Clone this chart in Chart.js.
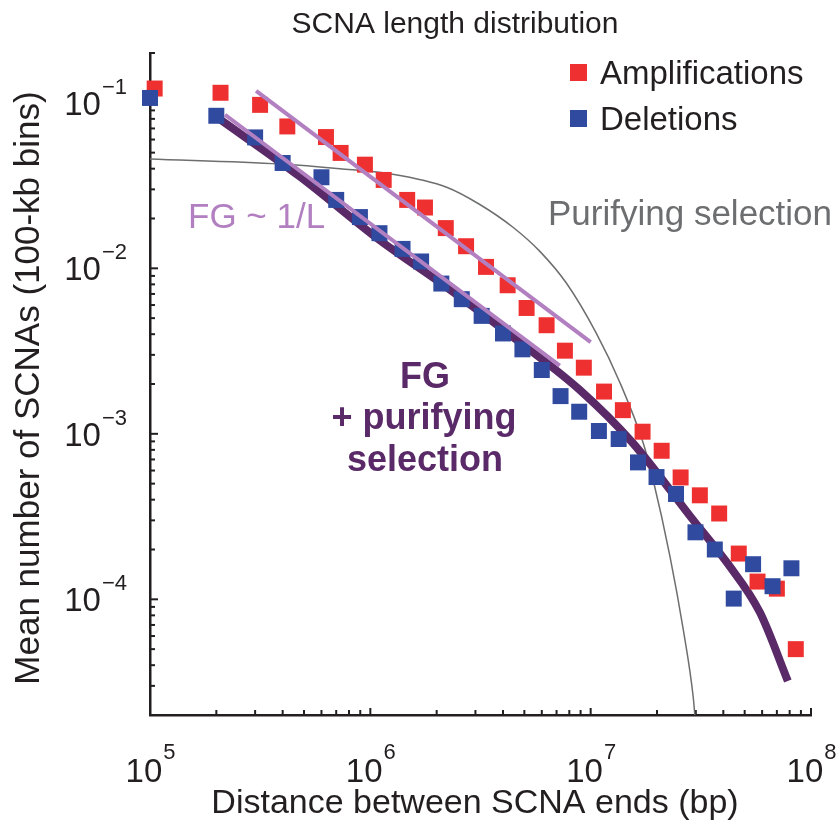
<!DOCTYPE html>
<html>
<head>
<meta charset="utf-8">
<script src="https://cdn.jsdelivr.net/npm/chart.js@4.4.0/dist/chart.umd.min.js"></script>
<style>
  html, body { margin: 0; padding: 0; background: #fff; }
  #wrap { width: 840px; height: 829px; }
</style>
</head>
<body>
<div id="wrap"><canvas id="scna"></canvas></div>
<script>
// Amplifications (red squares)
var ampX = [1.05e5, 2.09e5, 3.16e5, 4.2e5, 6.29e5, 7.33e5, 9.45e5, 1.15e6, 1.47e6, 1.77e6,
            2.2e6, 2.72e6, 3.35e6, 4.2e6, 5.12e6, 6.31e6, 7.64e6, 9.31e6, 1.15e7, 1.4e7,
            1.72e7, 2.1e7, 2.56e7, 3.13e7, 3.83e7, 4.7e7, 5.72e7, 7.0e7, 8.53e7];
var ampY = [0.122, 0.115, 0.0972, 0.072, 0.0621, 0.0498, 0.0423, 0.0342, 0.0259, 0.0233,
            0.0175, 0.0136, 0.0102, 0.0079, 0.00576, 0.00453, 0.00318, 0.00251, 0.0018, 0.00139,
            0.00103, 0.00079, 0.000545, 0.000425, 0.00033, 0.000189, 0.000128, 0.000116, 0.00005];

// Deletions (blue squares)
var delX = [1.0e5, 2.0e5, 3.0e5, 4.0e5, 6.0e5, 7.0e5, 8.97e5, 1.1e6, 1.4e6, 1.7e6,
            2.1e6, 2.6e6, 3.2e6, 4.0e6, 4.9e6, 6.0e6, 7.3e6, 8.87e6, 1.09e7, 1.34e7,
            1.64e7, 1.99e7, 2.44e7, 2.99e7, 3.66e7, 4.46e7, 5.46e7, 6.69e7, 8.15e7];
var delY = [0.107, 0.0835, 0.0618, 0.0433, 0.0355, 0.0259, 0.0204, 0.0163, 0.0131, 0.011,
            0.00809, 0.00651, 0.00516, 0.00404, 0.00324, 0.00243, 0.00169, 0.00136, 0.00104, 0.00093,
            0.000672, 0.000548, 0.000433, 0.000254, 0.0002, 0.000101, 0.000163, 0.00012, 0.000154];

// FG ~ 1/L guide lines (end points)
var fitAmpX = [3.03e5, 1.0e7];
var fitAmpY = [0.118, 0.00358];
var fitDelX = [2.19e5, 7.24e6];
var fitDelY = [0.0847, 0.00258];

// FG + purifying selection model curve
var fgX = [2.03e5, 4.79e5, 1.11e6, 2.22e6, 4.44e6, 8.93e6, 1.55e7, 2.91e7, 4.15e7, 5.86e7, 7.85e7];
var fgY = [0.0812, 0.0358, 0.0147, 0.00768, 0.00384, 0.00184, 0.000883, 0.000303, 0.000167, 0.0000835, 0.0000321];

// purifying selection only
var purX = [1.0e5, 3.89e5, 7.28e5, 1.23e6, 2.22e6, 3.14e6, 4.44e6, 5.88e6, 7.77e6, 1.06e7, 1.36e7,
            1.73e7, 1.92e7, 2.29e7, 2.63e7, 2.92e7, 2.97e7];
var purY = [0.0458, 0.0427, 0.0400, 0.0372, 0.0309, 0.0243, 0.0177, 0.01266, 0.00812, 0.00406, 0.00203,
            0.000883, 0.000528, 0.000182, 0.000066, 0.0000257, 0.00002];

// tick labels
var xTicks = [1e5, 1e6, 1e7, 1e8];
var xTickExp = ['5', '6', '7', '8'];
var yTicks = [1e-1, 1e-2, 1e-3, 1e-4];
var yTickExp = ['\u22121', '\u22122', '\u22123', '\u22124'];

var RED = '#ee3130', BLUE = '#2f4a9f', LAV = '#b27fc1', PURPLE = '#5a2a68', GREY = '#6d6e70', INK = '#231f20';
var FONT = '"Liberation Sans", Arial, sans-serif';

function pts(xs, ys) {
    return xs.map(function (x, i) { return { x: x, y: ys[i] }; });
}

// inward ticks on both axes, drawn under the markers
var tickMarks = {
    id: 'tickMarks',
    beforeDatasetsDraw: function (chart) {
        var ctx = chart.ctx, xs = chart.scales.x, ys = chart.scales.y, a = chart.chartArea;
        ctx.save();
        ctx.strokeStyle = INK;
        ctx.lineWidth = 2;
        for (var e = 5; e <= 8; e++) {
            for (var k = 1; k <= 9; k++) {
                var v = k * Math.pow(10, e);
                if (v > 1e8) break;
                var px = xs.getPixelForValue(v), len = k === 1 ? 7 : 5;
                ctx.beginPath(); ctx.moveTo(px, a.bottom); ctx.lineTo(px, a.bottom - len); ctx.stroke();
            }
        }
        for (var e2 = -5; e2 <= -1; e2++) {
            for (var k2 = 1; k2 <= 9; k2++) {
                var v2 = k2 * Math.pow(10, e2);
                if (v2 < 2e-5 || v2 > 0.2) continue;
                var py = ys.getPixelForValue(v2), len2 = k2 === 1 ? 8 : 5;
                ctx.beginPath(); ctx.moveTo(a.left, py); ctx.lineTo(a.left + len2, py); ctx.stroke();
            }
        }
        ctx.restore();
    }
};

// labels, titles, legend, annotations
var labels = {
    id: 'labels',
    afterDraw: function (chart) {
        var ctx = chart.ctx, xs = chart.scales.x, ys = chart.scales.y;
        ctx.save();
        ctx.fillStyle = INK;
        ctx.textBaseline = 'alphabetic';

        // x tick labels 10^n
        xTicks.forEach(function (v, i) {
            var px = xs.getPixelForValue(v);
            ctx.font = '33px ' + FONT;
            var w1 = ctx.measureText('10').width;
            ctx.font = '22px ' + FONT;
            var w2 = ctx.measureText(xTickExp[i]).width;
            var x0 = px - (w1 + w2) / 2;
            ctx.textAlign = 'left';
            ctx.font = '33px ' + FONT;
            ctx.fillText('10', x0, 782);
            ctx.font = '22px ' + FONT;
            ctx.fillText(xTickExp[i], x0 + w1 + 1, 759);
        });

        // y tick labels 10^-n
        yTicks.forEach(function (v, i) {
            var py = ys.getPixelForValue(v);
            ctx.font = '22px ' + FONT;
            var w2 = ctx.measureText(yTickExp[i]).width;
            ctx.textAlign = 'left';
            ctx.fillText(yTickExp[i], 127 - w2, py - 9);
            ctx.font = '33px ' + FONT;
            ctx.textAlign = 'right';
            ctx.fillText('10', 127 - w2 - 1, py + 12);
        });

        // titles
        ctx.textAlign = 'center';
        ctx.font = '30px ' + FONT;
        ctx.fillText('SCNA length distribution', 455, 33);
        ctx.font = '34px ' + FONT;
        ctx.fillText('Distance between SCNA ends (bp)', 475, 813);
        ctx.save();
        ctx.translate(39, 388);
        ctx.rotate(-Math.PI / 2);
        ctx.font = '35px ' + FONT;
        ctx.fillText('Mean number of SCNAs (100-kb bins)', 0, 0);
        ctx.restore();

        // legend
        ctx.fillStyle = RED; ctx.fillRect(570, 64, 17, 17);
        ctx.fillStyle = BLUE; ctx.fillRect(570, 110, 17, 17);
        ctx.fillStyle = INK; ctx.textAlign = 'left'; ctx.font = '33px ' + FONT;
        ctx.fillText('Amplifications', 600, 84);
        ctx.fillText('Deletions', 600, 130);

        // annotations
        ctx.font = '35px ' + FONT;
        ctx.fillStyle = GREY;
        ctx.fillText('Purifying selection', 548, 225);
        ctx.fillStyle = LAV;
        ctx.fillText('FG ~ 1/L', 188, 228);
        ctx.fillStyle = PURPLE; ctx.textAlign = 'center';
        ctx.font = 'bold 36px ' + FONT;
        ctx.fillText('FG', 425, 388);
        ctx.fillText('+ purifying', 424, 429);
        ctx.fillText('selection', 425, 471);
        ctx.restore();
    }
};

var ctx = document.getElementById('scna').getContext('2d');
new Chart(ctx, {
    type: 'scatter',
    data: {
        datasets: [{
            label: 'Amplifications',
            data: pts(ampX, ampY),
            pointStyle: 'rect',
            pointRadius: 11.3,
            backgroundColor: RED,
            borderWidth: 0,
            clip: false,
            order: 3
        }, {
            label: 'Deletions',
            data: pts(delX, delY),
            pointStyle: 'rect',
            pointRadius: 11.3,
            backgroundColor: BLUE,
            borderWidth: 0,
            clip: false,
            order: 2
        }, {
            label: 'FG ~ 1/L (amp)',
            data: pts(fitAmpX, fitAmpY),
            showLine: true,
            borderColor: LAV,
            borderWidth: 4,
            pointRadius: 0,
            order: 1
        }, {
            label: 'FG ~ 1/L (del)',
            data: pts(fitDelX, fitDelY),
            showLine: true,
            borderColor: LAV,
            borderWidth: 4,
            pointRadius: 0,
            order: 1
        }, {
            label: 'FG + purifying selection',
            data: pts(fgX, fgY),
            showLine: true,
            borderColor: PURPLE,
            borderWidth: 8,
            borderCapStyle: 'butt',
            cubicInterpolationMode: 'monotone',
            pointRadius: 0,
            order: 4
        }, {
            label: 'Purifying selection',
            data: pts(purX, purY),
            showLine: true,
            borderColor: GREY,
            borderWidth: 1.5,
            cubicInterpolationMode: 'monotone',
            pointRadius: 0,
            order: 5
        }]
    },
    options: {
        responsive: true,
        maintainAspectRatio: false,
        animation: false,
        layout: { padding: { left: 150, right: 29, top: 53, bottom: 114 } },
        plugins: { legend: { display: false }, tooltip: { enabled: false } },
        scales: {
            x: {
                type: 'logarithmic', min: 1e5, max: 1e8,
                ticks: { display: false },
                grid: { display: false, drawTicks: false },
                border: { display: true, color: INK, width: 2.5 }
            },
            y: {
                type: 'logarithmic', min: 2e-5, max: 0.2,
                ticks: { display: false },
                grid: { display: false, drawTicks: false },
                border: { display: true, color: INK, width: 2.5 }
            }
        }
    },
    plugins: [tickMarks, labels]
});
</script>
</body>
</html>
